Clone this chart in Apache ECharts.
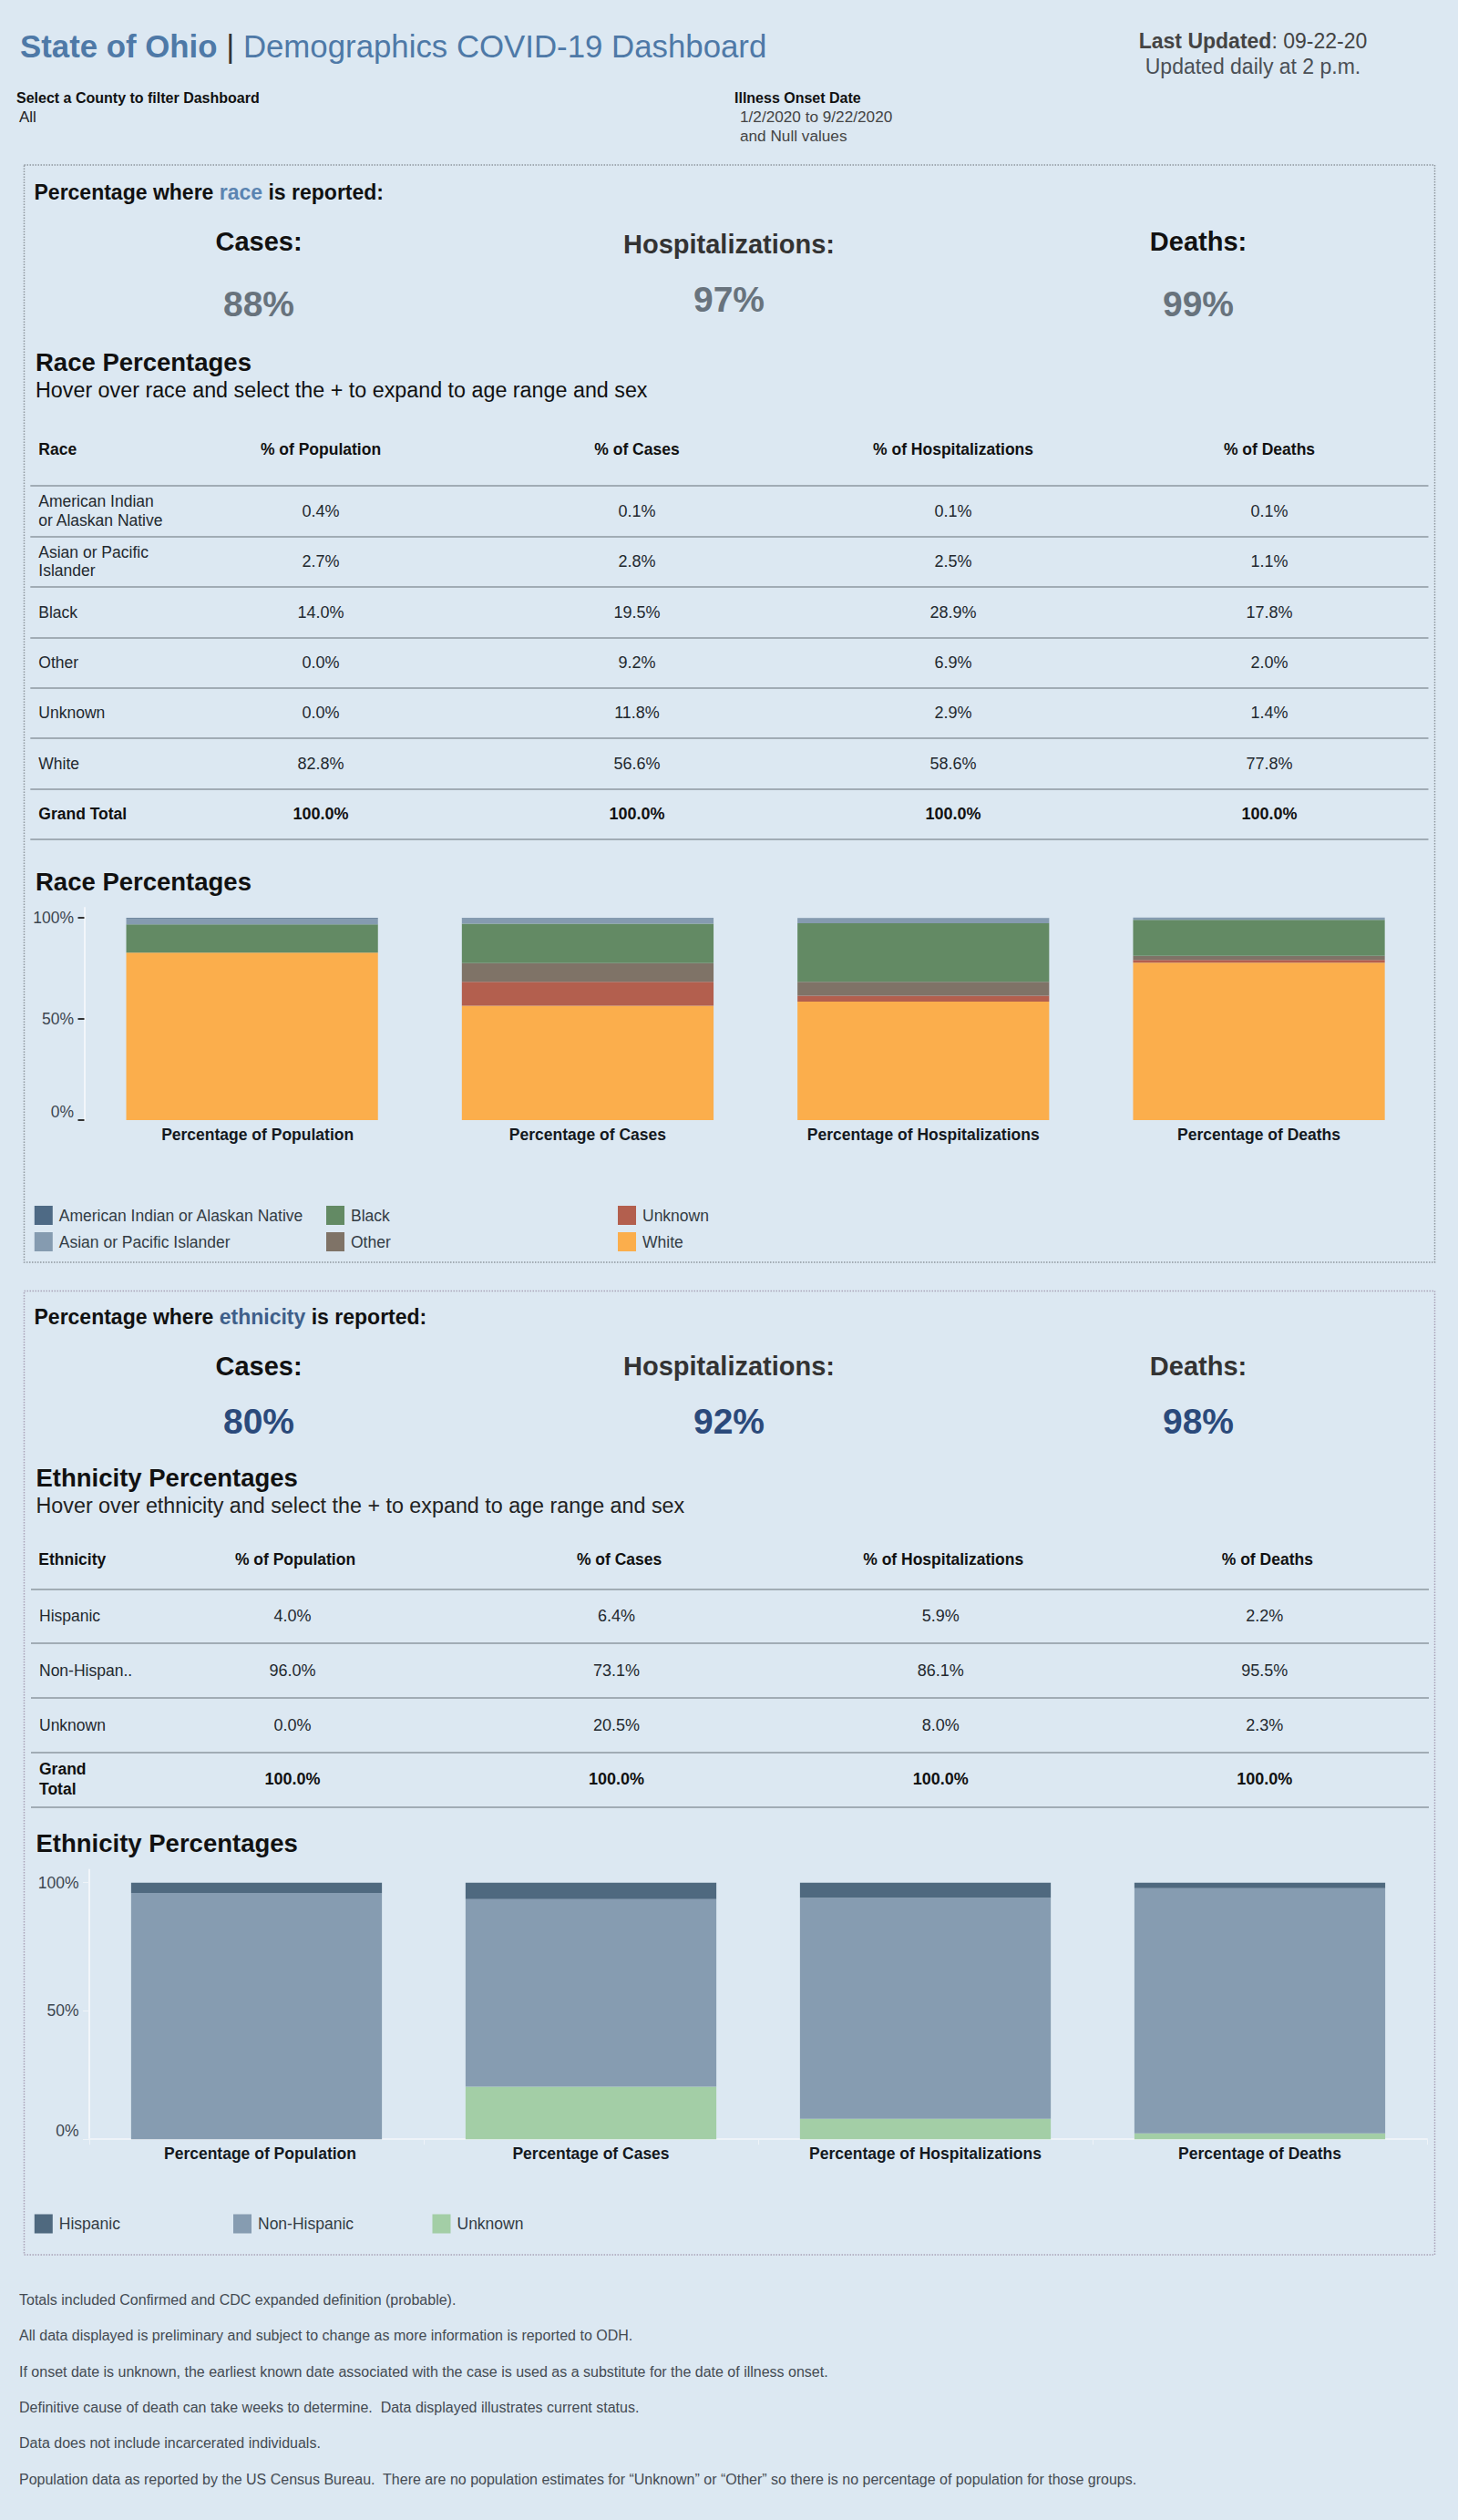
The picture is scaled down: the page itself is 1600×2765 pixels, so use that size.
<!DOCTYPE html>
<html lang="en">
<head>
<meta charset="UTF-8">
<title>State of Ohio | Demographics COVID-19 Dashboard</title>
<script src="https://cdn.jsdelivr.net/npm/echarts@6/dist/echarts.min.js"></script>
<style>
    html, body { margin: 0; padding: 0; background: #dce8f2; }
    #main { width: 1600px; height: 2765px; }
</style>
</head>
<body>
<div id="main"></div>
<script>
// chart columns
const barLabels = ['Percentage of Population', 'Percentage of Cases', 'Percentage of Hospitalizations', 'Percentage of Deaths'];
const columnHeads = ['% of Population', '% of Cases', '% of Hospitalizations', '% of Deaths'];
const axisTicks = [0, 50, 100];
const grandTotal = [100, 100, 100, 100];

// race
const raceGroups = ['American Indian or Alaskan Native', 'Asian or Pacific Islander', 'Black', 'Other', 'Unknown', 'White'];
const raceRowLabels = ['American Indian\nor Alaskan Native', 'Asian or Pacific\nIslander', 'Black', 'Other', 'Unknown', 'White', 'Grand Total'];
const racePopulation = [0.4, 2.7, 14.0, 0.0, 0.0, 82.8];
const raceCases = [0.1, 2.8, 19.5, 9.2, 11.8, 56.6];
const raceHospitalizations = [0.1, 2.5, 28.9, 6.9, 2.9, 58.6];
const raceDeaths = [0.1, 1.1, 17.8, 2.0, 1.4, 77.8];
const raceColors = ['#4e6a85', '#859bb0', '#638a64', '#7f7367', '#b35f4e', '#fbae4c'];
const raceReported = ['88%', '97%', '99%'];

// ethnicity
const ethnicityGroups = ['Hispanic', 'Non-Hispanic', 'Unknown'];
const ethnicityRowLabels = ['Hispanic', 'Non-Hispan..', 'Unknown', 'Grand\nTotal'];
const ethnicityPopulation = [4.0, 96.0, 0.0];
const ethnicityCases = [6.4, 73.1, 20.5];
const ethnicityHospitalizations = [5.9, 86.1, 8.0];
const ethnicityDeaths = [2.2, 95.5, 2.3];
const ethnicityColors = ['#4f697f', '#869cb1', '#a3cea6'];
const ethnicityReported = ['80%', '92%', '98%'];

const footnotes = [
    'Totals included Confirmed and CDC expanded definition (probable).',
    'All data displayed is preliminary and subject to change as more information is reported to ODH.',
    'If onset date is unknown, the earliest known date associated with the case is used as a substitute for the date of illness onset.',
    'Definitive cause of death can take weeks to determine.  Data displayed illustrates current status.',
    'Data does not include incarcerated individuals.',
    'Population data as reported by the US Census Bureau.  There are no population estimates for \u201CUnknown\u201D or \u201COther\u201D so there is no percentage of population for those groups.'
];

const FONT = '"Liberation Sans", Arial, sans-serif';
const grids = [], xAxes = [], yAxes = [], series = [], legends = [], items = [];

function text(x, y, str, size, color, extra) {
    items.push({
        type: 'text', x: x, y: y, silent: true,
        style: Object.assign({
            text: str, fontFamily: FONT, fontSize: size, fill: color,
            verticalAlign: 'middle', align: 'left'
        }, extra || {})
    });
}

function panel(x, y, w, h, color) {
    items.push({
        type: 'rect', silent: true,
        shape: { x: x, y: y, width: w, height: h },
        style: { fill: 'none', stroke: color, lineWidth: 1.5, lineDash: [1.5, 1.5] }
    });
}

// a table is two grids on the same rows: one full width with the rules and row
// labels, one over the value columns
function addTable(t) {
    const rows = t.rowLabels.map(function (name, i) {
        return i === t.rowLabels.length - 1 ? { value: name, textStyle: { fontWeight: 'bold', color: '#111' } } : name;
    });
    const g = grids.length;
    grids.push({ left: t.left, top: t.top, width: t.right - t.left, height: t.height });
    xAxes.push({ gridIndex: g, type: 'value', show: false });
    yAxes.push({
        gridIndex: g, type: 'category', inverse: true, data: rows,
        axisLine: { show: false }, axisTick: { show: false },
        axisLabel: { inside: true, margin: 9, interval: 0, fontFamily: FONT, fontSize: 17.5, lineHeight: t.labelLine, color: '#23292f' },
        splitLine: { show: true, interval: 0, lineStyle: { color: '#8e98a1', width: 1.5 } }
    });

    const c = grids.length;
    grids.push({ left: t.cellLeft, top: t.top, width: t.cellWidth * 4, height: t.height });
    xAxes.push({
        gridIndex: c, type: 'category', position: 'top', data: columnHeads,
        axisLine: { show: false }, axisTick: { show: false },
        axisLabel: { interval: 0, margin: t.headMargin, fontFamily: FONT, fontSize: 17.5, fontWeight: 'bold', color: '#111', padding: t.headPad }
    });
    yAxes.push({ gridIndex: c, type: 'category', inverse: true, show: false, data: t.rowLabels });

    const cells = [];
    t.columns.forEach(function (col, ci) {
        col.concat([grandTotal[ci]]).forEach(function (v, ri) {
            const item = { value: [ci, ri, v] };
            if (ri === col.length) item.label = { fontWeight: 'bold', color: '#111' };
            cells.push(item);
        });
    });
    series.push({
        type: 'scatter', xAxisIndex: c, yAxisIndex: c, data: cells,
        symbolSize: 1, itemStyle: { color: 'transparent', opacity: 1 }, silent: true,
        label: {
            show: true, position: 'inside', fontFamily: FONT, fontSize: 18, color: '#23292f',
            formatter: function (p) { return p.value[2].toFixed(1) + '%'; }
        }
    });
}

function addBars(b) {
    const g = grids.length;
    grids.push({ left: b.left, top: b.top, width: b.band * 4, height: b.height });
    const labels = barLabels.map(function (name, i) {
        return i === 0 ? { value: name, textStyle: { padding: [0, 0, 0, b.firstPad] } } : name;
    });
    xAxes.push({
        gridIndex: g, type: 'category', data: labels,
        axisLine: { show: b.lightAxis, lineStyle: { color: '#eef3f8', width: 2 } },
        axisTick: { show: b.lightAxis, length: 6, lineStyle: { color: '#eef3f8' } },
        axisLabel: { interval: 0, margin: 7, fontFamily: FONT, fontSize: 17.5, fontWeight: 'bold', color: '#14191e' }
    });
    yAxes.push({
        gridIndex: g, type: 'value', min: 0, max: 105,
        splitLine: { show: false },
        axisLine: { show: true, lineStyle: { color: '#f2f6fa', width: 2 } },
        axisTick: { show: true, customValues: axisTicks, length: 7, lineStyle: b.tick },
        axisLabel: {
            customValues: axisTicks, margin: 11.5, verticalAlignMinLabel: 'bottom',
            fontFamily: FONT, fontSize: 17.5, color: '#3c4650', formatter: '{value}%'
        }
    });
    // first group sits on top of the stack
    for (let i = b.groups.length - 1; i >= 0; i--) {
        series.push({
            type: 'bar', name: b.groups[i], stack: b.stack, xAxisIndex: g, yAxisIndex: g,
            barWidth: '75%', silent: true,
            itemStyle: { color: b.colors[i] },
            data: b.columns.map(function (col) { return col[i]; })
        });
    }
}

function addLegend(names, colors, left, top) {
    legends.push({
        left: left, top: top, padding: 0, orient: 'vertical', icon: 'rect', selectedMode: false,
        itemWidth: 20, itemHeight: 21, itemGap: 8,
        textStyle: { fontFamily: FONT, fontSize: 17.5, color: '#333c44', padding: [0, 0, 0, 2] },
        data: names.map(function (n, i) { return { name: n, itemStyle: { color: colors[i] } }; })
    });
}

// header
text(22, 50, '{a|State of Ohio} {b||} {c|Demographics COVID-19 Dashboard}', 34.8, '#4e79a7', {
    rich: {
        a: { fontFamily: FONT, fontSize: 34.8, fontWeight: 'bold', fill: '#4e79a7' },
        b: { fontFamily: FONT, fontSize: 34.8, fill: '#333' },
        c: { fontFamily: FONT, fontSize: 34.8, fill: '#4e79a7' }
    }
});
text(1375, 45, '{a|Last Updated}{b|: 09-22-20}', 23, '#444', {
    align: 'center',
    rich: {
        a: { fontFamily: FONT, fontSize: 23, fontWeight: 'bold', fill: '#444' },
        b: { fontFamily: FONT, fontSize: 23, fill: '#444' }
    }
});
text(1375, 73, 'Updated daily at 2 p.m.', 23, '#4a4f55', { align: 'center' });
text(18, 107, 'Select a County to filter Dashboard', 16, '#111', { fontWeight: 'bold' });
text(21, 128, 'All', 17, '#222');
text(806, 107, 'Illness Onset Date', 16, '#111', { fontWeight: 'bold' });
text(812, 128, '1/2/2020 to 9/22/2020', 17.2, '#444');
text(812, 149, 'and Null values', 17.2, '#444');

function heading(y, color, word) {
    text(37.5, y, '{a|Percentage where }{b|' + word + '}{a| is reported:}', 23, '#111', {
        rich: {
            a: { fontFamily: FONT, fontSize: 23, fontWeight: 'bold', fill: '#111' },
            b: { fontFamily: FONT, fontSize: 23, fontWeight: 'bold', fill: color }
        }
    });
}
function stat(x, yHead, yValue, head, headColor, value, valueColor) {
    text(x, yHead, head, 29, headColor, { fontWeight: 'bold', align: 'center' });
    text(x, yValue, value, 39, valueColor, { fontWeight: 'bold', align: 'center' });
}

// race panel
panel(26.5, 181, 1548, 1204, '#8f979f');
heading(211, '#5b84b1', 'race');
stat(284, 265, 333, 'Cases:', '#111', raceReported[0], '#68737d');
stat(800, 268, 328, 'Hospitalizations:', '#333', raceReported[1], '#68737d');
stat(1315, 265, 333, 'Deaths:', '#111', raceReported[2], '#68737d');
text(39, 397, 'Race Percentages', 27.5, '#111', { fontWeight: 'bold' });
text(39, 428, 'Hover over race and select the + to expand to age range and sex', 23.3, '#111');
text(42.3, 493, 'Race', 17.5, '#111', { fontWeight: 'bold' });
text(39, 967, 'Race Percentages', 27.5, '#111', { fontWeight: 'bold' });

addTable({
    left: 33.3, right: 1567.5, top: 533, height: 388, cellLeft: 178.5, cellWidth: 347, labelLine: 20.5,
    headPad: [0, 0, 0, 0], headMargin: 31, rowLabels: raceRowLabels,
    columns: [racePopulation, raceCases, raceHospitalizations, raceDeaths]
});
addBars({
    left: 92.5, top: 996, band: 368.3, height: 233, stack: 'race', firstPad: 12, lightAxis: false,
    tick: { color: '#333', width: 2 },
    groups: raceGroups, colors: raceColors,
    columns: [racePopulation, raceCases, raceHospitalizations, raceDeaths]
});
addLegend(raceGroups.slice(0, 2), raceColors.slice(0, 2), 37.8, 1323);
addLegend(raceGroups.slice(2, 4), raceColors.slice(2, 4), 358, 1323);
addLegend(raceGroups.slice(4, 6), raceColors.slice(4, 6), 678, 1323);

// ethnicity panel
panel(26.5, 1416.5, 1548, 1057.5, '#a9a2b8');
heading(1445, '#3e5f8a', 'ethnicity');
stat(284, 1499, 1559, 'Cases:', '#111', ethnicityReported[0], '#2b4a7b');
stat(800, 1499, 1559, 'Hospitalizations:', '#333', ethnicityReported[1], '#2b4a7b');
stat(1315, 1499, 1559, 'Deaths:', '#333', ethnicityReported[2], '#2b4a7b');
text(39.5, 1621.5, 'Ethnicity Percentages', 27.5, '#111', { fontWeight: 'bold' });
text(39.5, 1652, 'Hover over ethnicity and select the + to expand to age range and sex', 23.3, '#222');
text(42.3, 1711, 'Ethnicity', 17.5, '#111', { fontWeight: 'bold' });
text(39.5, 2022, 'Ethnicity Percentages', 27.5, '#111', { fontWeight: 'bold' });

addTable({
    left: 34, right: 1568, top: 1743.3, height: 239, cellLeft: 143.2, cellWidth: 355.6, labelLine: 22,
    headPad: [0, 0, 0, 6], headMargin: 23, rowLabels: ethnicityRowLabels,
    columns: [ethnicityPopulation, ethnicityCases, ethnicityHospitalizations, ethnicityDeaths]
});
addBars({
    left: 98, top: 2051.6, band: 367, height: 295.6, stack: 'ethnicity', firstPad: 8, lightAxis: true,
    tick: { color: '#eef3f8', width: 1 },
    groups: ethnicityGroups, colors: ethnicityColors,
    columns: [ethnicityPopulation, ethnicityCases, ethnicityHospitalizations, ethnicityDeaths]
});
addLegend(ethnicityGroups.slice(0, 1), ethnicityColors.slice(0, 1), 37.8, 2429.5);
addLegend(ethnicityGroups.slice(1, 2), ethnicityColors.slice(1, 2), 256, 2429.5);
addLegend(ethnicityGroups.slice(2, 3), ethnicityColors.slice(2, 3), 474.5, 2429.5);

// footnotes
footnotes.forEach(function (line, i) {
    text(21, 2523.3 + i * 39.4, line, 16, '#444b52');
});

const chart = echarts.init(document.getElementById('main'), null, { renderer: 'svg' });
chart.setOption({
    backgroundColor: '#dce8f2',
    animation: false,
    textStyle: { fontFamily: FONT },
    grid: grids,
    xAxis: xAxes,
    yAxis: yAxes,
    legend: legends,
    series: series,
    graphic: { elements: items }
});
</script>
</body>
</html>
